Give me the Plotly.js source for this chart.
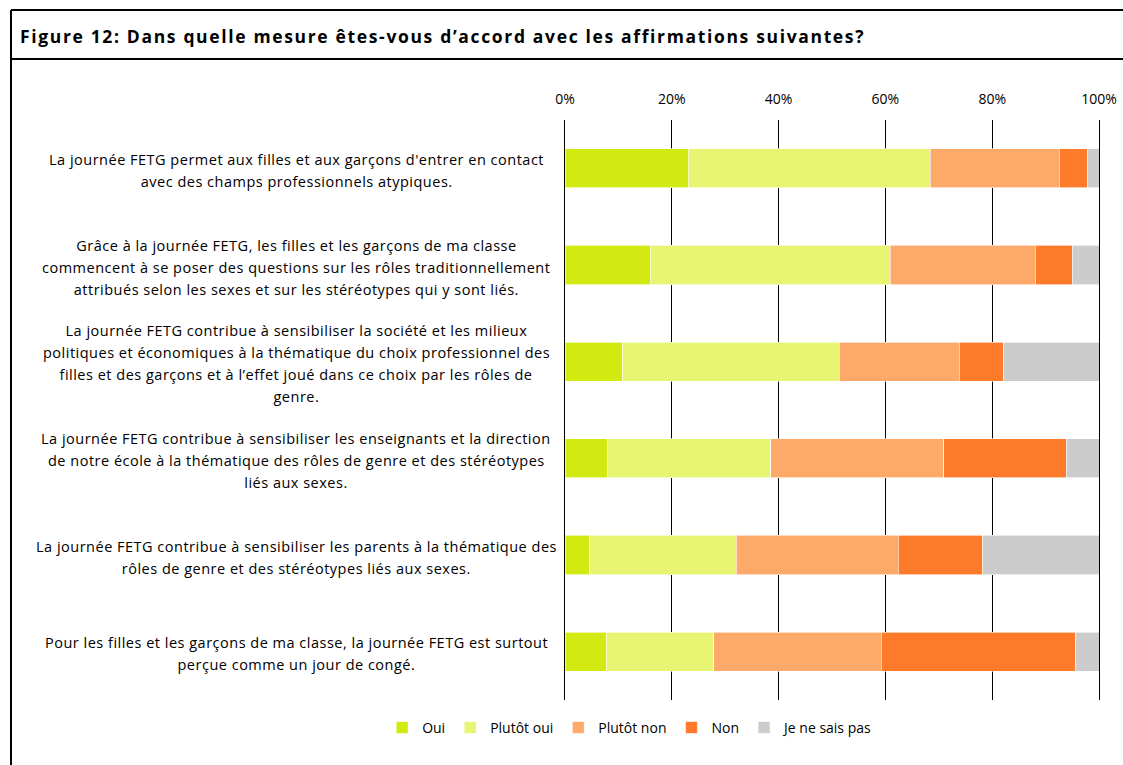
<!DOCTYPE html>
<html>
<head>
<meta charset="utf-8">
<script src="https://cdn.plot.ly/plotly-3.0.1.min.js"></script>
<style>
html,body{margin:0;padding:0;background:#fff;}
#chart{width:1123px;height:765px;}
#chart .annotation-text{letter-spacing:0.5px;}
#chart .gtitle{letter-spacing:1.65px;}
</style>
</head>
<body>
<div id="chart"></div>
<script>
// ---- data ----
const categoryLines = [
  ["La journée FETG permet aux filles et aux garçons d'entrer en contact",
   "avec des champs professionnels atypiques."],
  ["Grâce à la journée FETG, les filles et les garçons de ma classe",
   "commencent à se poser des questions sur les rôles traditionnellement",
   "attribués selon les sexes et sur les stéréotypes qui y sont liés."],
  ["La journée FETG contribue à sensibiliser la société et les milieux",
   "politiques et économiques à la thématique du choix professionnel des",
   "filles et des garçons et à l’effet joué dans ce choix par les rôles de",
   "genre."],
  ["La journée FETG contribue à sensibiliser les enseignants et la direction",
   "de notre école à la thématique des rôles de genre et des stéréotypes",
   "liés aux sexes."],
  ["La journée FETG contribue à sensibiliser les parents à la thématique des",
   "rôles de genre et des stéréotypes liés aux sexes."],
  ["Pour les filles et les garçons de ma classe, la journée FETG est surtout",
   "perçue comme un jour de congé."]
];
const categories = categoryLines.map(l => l.join(" "));

const seriesNames = ["Oui", "Plutôt oui", "Plutôt non", "Non", "Je ne sais pas"];
const oui         = [23.1, 16.0, 10.8,  7.9,  4.6,  7.7];
const plutotOui   = [45.3, 44.9, 40.6, 30.6, 27.5, 20.2];
const plutotNon   = [24.2, 27.2, 22.4, 32.4, 30.3, 31.3];
const non         = [ 5.2,  6.9,  8.4, 23.0, 15.8, 36.4];
const jeNeSaisPas = [ 2.2,  5.0, 17.8,  6.1, 21.8,  4.4];
const seriesValues = [oui, plutotOui, plutotNon, non, jeNeSaisPas];
const seriesColors = ["#d3e912", "#e7f572", "#fda96a", "#fd7a2a", "#cccccc"];

const xTickVals = [0, 20, 40, 60, 80, 100];
const xTickText = ["0%", "20%", "40%", "60%", "80%", "100%"];
const titleText = "Figure 12: Dans quelle mesure êtes-vous d’accord avec les affirmations suivantes?";

// ---- traces ----
const FONT = "'Open Sans', Lato, sans-serif";
const traces = seriesNames.map((name, i) => ({
  type: "bar",
  orientation: "h",
  name: name,
  y: categories,
  x: seriesValues[i],
  marker: {color: seriesColors[i], line: {color: "#ffffff", width: 0.6}},
  hoverinfo: "name+x"
}));

// category labels as centered multi-line annotations
const LINE_H = 22;
const annotations = [];
categoryLines.forEach((lines, ci) => {
  const n = lines.length;
  lines.forEach((txt, li) => {
    annotations.push({
      xref: "paper", yref: "y",
      x: -0.5037, y: categories[ci],
      xanchor: "center", yanchor: "middle",
      text: txt, showarrow: false,
      yshift: ((n - 1) / 2 - li) * LINE_H - 2,
      font: {family: FONT, size: 14.5, color: "#000"}
    });
  });
});

const layout = {
  width: 1123, height: 765,
  margin: {l: 565, r: 24, t: 120, b: 65, pad: 0},
  paper_bgcolor: "#ffffff", plot_bgcolor: "#ffffff",
  font: {family: FONT, size: 14, color: "#000"},
  title: {
    text: "<b>" + titleText + "</b>",
    x: 20 / 1123, xanchor: "left", xref: "container",
    y: 1 - 37 / 765, yanchor: "middle", yref: "container",
    font: {family: FONT, size: 17.5, color: "#000"}
  },
  barmode: "stack",
  bargap: 0.595,
  showlegend: true,
  legend: {
    orientation: "h",
    x: 0.122, xanchor: "center",
    y: -0.048, yanchor: "middle",
    font: {family: FONT, size: 14, color: "#000"},
    itemwidth: 30,
    traceorder: "normal",
    bgcolor: "rgba(0,0,0,0)"
  },
  xaxis: {
    side: "top",
    range: [0, 100],
    tickvals: xTickVals, ticktext: xTickText,
    showgrid: true, gridcolor: "#000", gridwidth: 1,
    zeroline: false, showline: false,
    ticks: "", ticklabelstandoff: 12,
    tickfont: {family: FONT, size: 14, color: "#000"},
    fixedrange: true
  },
  yaxis: {
    autorange: "reversed",
    showticklabels: false, ticks: "",
    showgrid: false, zeroline: false,
    showline: true, mirror: true, linecolor: "#000", linewidth: 1,
    fixedrange: true
  },
  annotations: annotations,
  shapes: [
    // frame: left border, top border, title divider
    {type: "line", xref: "paper", yref: "paper", x0: (11 - 565) / 534, x1: (11 - 565) / 534,
     y0: (700 - 10) / 580, y1: (700 - 770) / 580, line: {color: "#000", width: 2}},
    {type: "line", xref: "paper", yref: "paper", x0: (11 - 565) / 534, x1: (1130 - 565) / 534,
     y0: (700 - 10) / 580, y1: (700 - 10) / 580, line: {color: "#000", width: 2}},
    {type: "line", xref: "paper", yref: "paper", x0: (11 - 565) / 534, x1: (1130 - 565) / 534,
     y0: (700 - 59) / 580, y1: (700 - 59) / 580, line: {color: "#000", width: 2}}
  ]
};

Plotly.newPlot("chart", traces, layout, {displayModeBar: false, staticPlot: true});
</script>
</body>
</html>
